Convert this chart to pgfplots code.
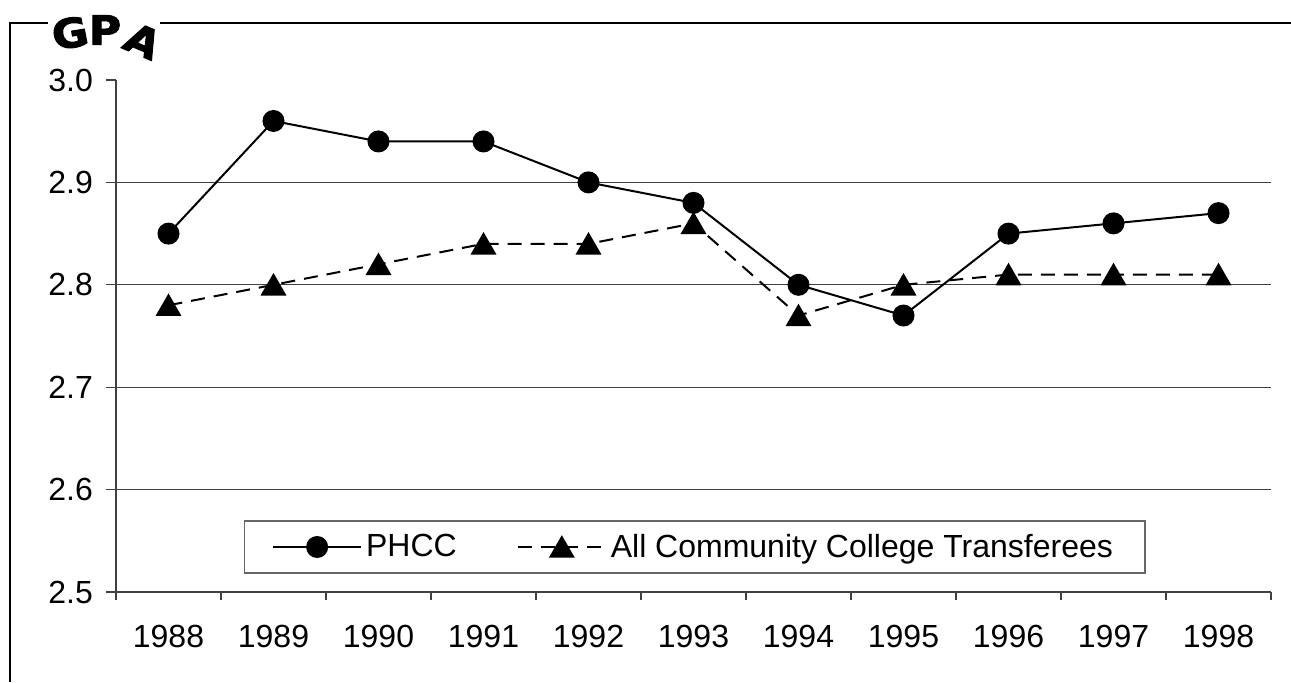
\documentclass[border=0pt]{standalone}
\usepackage{fontspec}
\setmainfont{Liberation Sans}
\newfontfamily\gpafont[BoldFeatures={FakeBold=2.5}]{DejaVu Sans}
\usepackage{pgfplots}
\pgfplotsset{compat=1.18}

\begin{document}
\begin{tikzpicture}
\useasboundingbox (0,0) rectangle (645.5pt,341pt);
\fill[white] (0,0) rectangle (645.5pt,341pt);
% outer frame (only left and top edges show)
\draw[black, line width=0.7pt] (5pt,0pt) -- (5pt,329.5pt) -- (645.5pt,329.5pt);
\begin{axis}[
    at={(58pt,45pt)}, anchor=south west,
    scale only axis, width=577.5pt, height=256pt,
    xmin=-0.5, xmax=10.5, ymin=2.5, ymax=3.0,
    axis x line*=bottom, axis y line*=left,
    axis line style={black!75, line width=0.6pt},
    tick align=outside,
    xtick={0,...,10},
    xticklabels={1988,1989,1990,1991,1992,1993,1994,1995,1996,1997,1998},
    major x tick style={draw=none},
    minor xtick={-0.5,0.5,...,10.5},
    minor tick length=4pt,
    minor x tick style={black!75, line width=0.6pt},
    ytick={2.5,2.6,2.7,2.8,2.9,3.0},
    major tick length=5pt,
    y tick style={black!75, line width=0.6pt},
    extra y ticks={2.6,2.7,2.8,2.9},
    extra y tick labels={},
    extra y tick style={grid=major, major tick length=0pt},
    major grid style={black!75, line width=0.6pt},
    /pgf/number format/assume math mode=true,
    yticklabel style={/pgf/number format/fixed, /pgf/number format/fixed zerofill,
        /pgf/number format/precision=1, xshift=-3pt},
    tick label style={font=\fontsize{16pt}{18pt}\selectfont, black},
    xticklabel style={yshift=-8pt},
    legend style={at={(0.5009,0.0879)}, anchor=center, draw=black!60, line width=0.6pt,
        legend columns=2, font=\fontsize{16pt}{18pt}\selectfont,
        inner xsep=14pt, inner ysep=4.5pt,
        /tikz/every even column/.append style={column sep=28pt}},
    legend image code/.code={%
        \draw[mark repeat=2,mark phase=2] plot coordinates {(0pt,0pt)(22pt,0pt)(44pt,0pt)};},
]
\addplot[black, line width=1pt, mark=*, mark size=5pt]
    coordinates {(0,2.85)(1,2.96)(2,2.94)(3,2.94)(4,2.90)(5,2.88)(6,2.80)(7,2.77)(8,2.85)(9,2.86)(10,2.87)};
\addlegendentry{PHCC}
\addplot[black, line width=1pt, dash pattern=on 7pt off 4.5pt, mark=triangle*, mark size=6.5pt,
    mark options={solid, yshift=-1.6pt}]
    coordinates {(0,2.78)(1,2.80)(2,2.82)(3,2.84)(4,2.84)(5,2.86)(6,2.77)(7,2.80)(8,2.81)(9,2.81)(10,2.81)};
\addlegendentry{All Community College Transferees}
\end{axis}
% WordArt-like "GPA" title
\fill[white] (24pt,327pt) rectangle (80pt,332pt);
\begin{scope}[every node/.style={inner sep=0pt, font=\gpafont\bfseries\fontsize{20pt}{22pt}\selectfont, xscale=1.1}]
\node[rotate=10] at (35pt,324.5pt) {G};
\node at (52.5pt,326pt) {P};
\node[rotate=-25] at (71.5pt,320.5pt) {A};
\end{scope}
\end{tikzpicture}
\end{document}
